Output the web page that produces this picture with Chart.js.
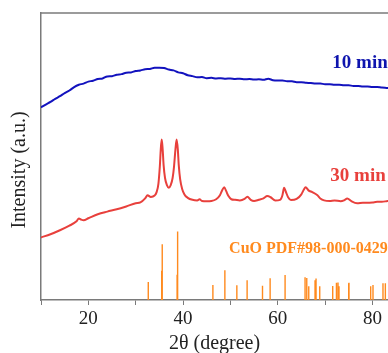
<!DOCTYPE html>
<html>
<head>
<meta charset="utf-8">
<script src="https://cdn.jsdelivr.net/npm/chart.js@4/dist/chart.umd.min.js"></script>
<style>
html,body{margin:0;padding:0;background:#fff;overflow:hidden;}
canvas{display:block;}
</style>
</head>
<body>
<canvas id="c" width="388" height="353"></canvas>
<script>
// ---- data ----
const xTickLabels = [20, 40, 60, 80];

const blueTheta = [10,11,12,13,14,15,16,17,18,19,20,21,22,23,24,25,26,27,28,29,30,31,32,33,34,35,36,37,38,39,40,41,42,43,44,45,46,47,48,49,50,51,52,53,54,55,56,57,58,59,60,61,62,63,64,65,66,67,68,69,70,71,72,73,74,75,76,77,78,79,80,81,82,83,84];
const blueIntensity = [67.1,68.1,69.0,70.1,71.0,72.1,73.0,74.2,75.0,75.4,76.1,76.4,77.0,77.2,77.9,78.0,78.5,78.7,79.2,79.3,79.8,80.0,80.4,80.5,80.9,80.9,80.8,80.3,80.0,79.3,79.0,78.3,78.0,77.6,77.7,77.3,77.4,77.2,77.3,77.1,77.2,77.0,77.1,76.9,77.0,76.8,76.9,76.7,77.1,76.6,76.5,76.5,76.2,76.2,75.9,75.9,75.7,75.6,75.4,75.4,75.2,75.2,75.0,75.0,74.8,74.8,74.6,74.6,74.4,74.4,74.2,74.2,74.0,73.9,73.8];

const redTheta = [10,12,14,16,17.5,18,18.5,19,20,22,24,26,28,30,31,32,32.5,33.2,34.0,34.4,34.8,35.1,35.3,35.5,35.7,35.9,36.2,36.6,37.0,37.4,37.8,38.1,38.4,38.65,38.9,39.1,39.4,39.8,40.3,41.0,42,43,43.5,44,45,46,47,47.8,48.3,48.7,49.1,49.6,50.2,51,52,53,53.6,54.3,55,56,57,57.8,58.5,59.5,60.5,61.0,61.35,61.7,62.2,62.8,64,65,65.5,65.9,66.5,67.3,68.4,69,69.8,71,72,73.3,74,74.7,75.5,76.8,78,78.9,80,81,82,83.2,84];
const redIntensity = [21.8,22.9,24.3,25.9,27.4,28.4,28.0,27.8,28.5,29.9,30.8,31.6,32.6,33.7,34.0,35.4,36.5,35.9,36.4,37.5,40.5,46.5,52.5,55.9,52.5,47.0,42.5,40.0,39.1,40.0,42.5,46.5,52.5,55.9,52.5,47.0,42.0,38.8,36.8,35.6,34.9,34.7,35.1,34.5,34.4,34.5,35.1,36.5,38.3,39.3,38.0,36.2,35.1,34.9,34.7,35.2,36.0,34.9,34.5,34.9,35.4,36.2,35.8,34.7,34.9,36.5,39.1,37.8,35.8,34.8,35.2,36.8,38.4,39.3,38.2,37.6,36.5,35.4,34.7,34.5,34.7,34.4,34.7,35.4,34.5,33.7,33.9,33.9,34.0,34.2,34.2,34.5,34.6];

const stickTheta = [32.66,35.5,35.61,38.75,38.86,46.31,48.84,51.37,53.54,56.79,58.40,61.56,65.78,66.14,66.56,67.89,68.10,68.88,71.62,72.41,72.74,72.95,75.0,75.06,79.64,80.13,82.24,82.74];
const stickIntensity = [6.25,10.2,19.4,8.8,23.9,5.2,10.4,5.1,6.9,5.0,7.6,8.7,7.9,7.7,4.8,6.9,7.5,4.8,4.9,6.0,6.1,4.8,5.8,6.0,4.8,5.2,5.8,5.8];

const seriesLabels = ['10 min', '30 min', 'CuO PDF#98-000-0429'];
const axisTitleX = '2θ (degree)';
const axisTitleY = 'Intensity (a.u.)';

// ---- build datasets ----
const blueData = blueTheta.map((t, i) => ({x: t, y: blueIntensity[i]}));
const redData = redTheta.map((t, i) => ({x: t, y: redIntensity[i]}));
const stickData = [];
stickTheta.forEach((t, i) => {
  stickData.push({x: t, y: 0});
  stickData.push({x: t, y: stickIntensity[i]});
  stickData.push({x: t, y: null});
});

const BLUE = '#1212BE';
const RED = '#E8403C';
const ORANGE = '#FF8A1E';
const AXIS = '#7a7a7a';
const SERIF = '"Liberation Serif", "Times New Roman", serif';

const labelPlugin = {
  id: 'labels',
  afterDatasetsDraw(chart) {
    const ctx = chart.ctx;
    const a = chart.chartArea;
    const xs = chart.scales.x, ys = chart.scales.y;
    ctx.save();
    // top frame line
    ctx.strokeStyle = AXIS;
    ctx.lineWidth = 1.5;
    ctx.beginPath();
    ctx.moveTo(a.left, a.top);
    ctx.lineTo(a.right, a.top);
    ctx.stroke();
    // series labels
    ctx.textAlign = 'right';
    ctx.textBaseline = 'middle';
    const xr = xs.getPixelForValue(83.25);
    ctx.font = 'bold 19px ' + SERIF;
    ctx.fillStyle = '#0E14AE';
    ctx.fillText(seriesLabels[0], xr, ys.getPixelForValue(82.6));
    ctx.fillStyle = RED;
    ctx.fillText(seriesLabels[1], xr - 2, ys.getPixelForValue(43.1));
    ctx.font = 'bold 16px ' + SERIF;
    ctx.fillStyle = ORANGE;
    ctx.fillText(seriesLabels[2], xr, ys.getPixelForValue(17.7));
    // y axis title
    ctx.translate(20, 170);
    ctx.rotate(-Math.PI / 2);
    ctx.textAlign = 'center';
    ctx.font = '20px ' + SERIF;
    ctx.fillStyle = '#222';
    ctx.fillText(axisTitleY, 0, 0);
    ctx.restore();
  }
};

new Chart(document.getElementById('c'), {
  type: 'line',
  data: {
    datasets: [
      {label: seriesLabels[0], data: blueData, borderColor: BLUE, borderWidth: 2, pointRadius: 0, cubicInterpolationMode: 'monotone'},
      {label: seriesLabels[1], data: redData, borderColor: RED, borderWidth: 2, pointRadius: 0, cubicInterpolationMode: 'monotone'},
      {label: seriesLabels[2], data: stickData, borderColor: ORANGE, borderWidth: 1.4, pointRadius: 0, spanGaps: false, tension: 0}
    ]
  },
  options: {
    responsive: false,
    animation: false,
    devicePixelRatio: 1,
    layout: {padding: {top: 13, left: 33, right: 0, bottom: 0}},
    plugins: {legend: {display: false}, tooltip: {enabled: false}},
    scales: {
      x: {
        type: 'linear',
        min: 10,
        max: 83.3,
        offset: false,
        border: {display: true, color: AXIS, width: 1.5},
        grid: {display: true, drawOnChartArea: false, drawTicks: true, tickLength: 5, color: AXIS, tickColor: AXIS, tickWidth: 1},
        ticks: {
          stepSize: 10,
          includeBounds: false,
          autoSkip: false,
          maxRotation: 0,
          padding: 5,
          color: '#222',
          font: {family: SERIF, size: 19, lineHeight: 1.0},
          callback: (v) => xTickLabels.includes(v) ? String(v) : ''
        },
        title: {display: true, text: axisTitleX, color: '#222', font: {family: SERIF, size: 20, lineHeight: 0.95}, padding: {top: 0, bottom: 0}}
      },
      y: {
        type: 'linear',
        min: 0,
        max: 100,
        border: {display: true, color: AXIS, width: 1.5},
        grid: {display: false},
        ticks: {display: false},
        title: {display: false}
      }
    }
  },
  plugins: [labelPlugin]
});
</script>
</body>
</html>
